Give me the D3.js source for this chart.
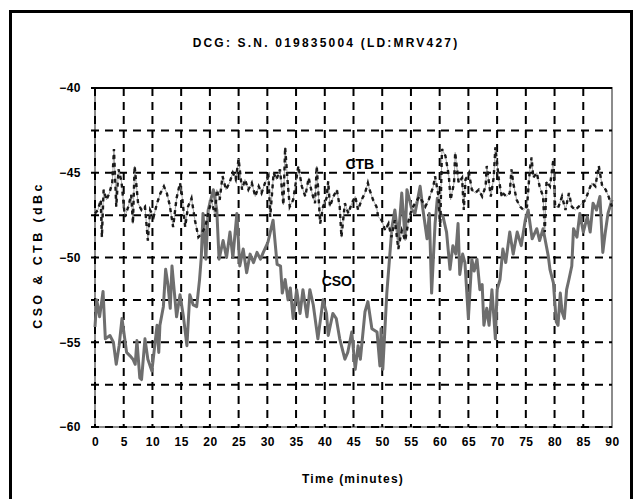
<!DOCTYPE html>
<html><head><meta charset="utf-8">
<script src="https://cdn.jsdelivr.net/npm/d3@7/dist/d3.min.js"></script>
<style>
body{margin:0;background:#fff;}
text{font-family:"Liberation Sans",Arial,sans-serif;font-weight:bold;fill:#000;}
</style>
</head><body>
<svg id="c" width="637" height="499"></svg>
<script>
// ---- data ----
const title = "DCG: S.N. 019835004 (LD:MRV427)";
const xTitle = "Time (minutes)";
const yTitle = "CSO & CTB (dBc";
const xTicks = [0,5,10,15,20,25,30,35,40,45,50,55,60,65,70,75,80,85,90];
const yTicks = [-40,-45,-50,-55,-60];
const yGrid = [-42.5,-45,-47.5,-50,-52.5,-55,-57.5,-60];

const csoT = [0.0,0.3,0.8,1.4,1.8,2.6,3.2,3.7,4.2,4.7,5.5,6.1,6.6,7.0,7.3,7.8,8.1,8.7,9.2,9.9,10.3,10.8,11.1,11.3,11.9,12.3,12.7,13.1,13.4,14.2,14.8,15.4,16.0,16.5,17.1,17.7,18.2,18.5,18.8,19.1,19.3,19.7,20.6,21.2,21.6,22.3,22.9,23.5,24.0,24.7,25.2,25.8,26.4,27.0,27.6,28.2,28.8,29.3,30.1,31.0,31.7,32.3,32.6,33.1,33.6,34.0,34.5,35.1,35.7,36.2,36.9,37.4,38.0,38.8,39.7,40.3,40.6,41.4,42.0,42.6,43.5,44.0,44.7,45.3,45.8,46.2,47.0,47.5,48.2,49.1,49.6,49.8,50.1,50.8,51.4,51.7,52.2,52.8,53.4,54.0,54.3,55.2,55.7,56.6,57.1,57.8,58.2,58.6,59.2,59.6,60.1,60.6,61.2,61.8,62.3,62.8,63.2,63.5,64.0,64.4,65.0,65.6,66.0,66.5,67.0,67.4,67.7,68.2,68.6,69.1,69.7,70.0,70.5,71.0,71.5,72.2,72.8,73.5,74.2,74.9,75.4,76.1,76.9,77.4,78.0,78.9,79.2,79.8,80.3,80.6,81.0,81.3,81.7,82.1,82.5,83.0,83.3,83.9,84.4,85.0,85.7,86.2,86.7,87.3,87.9,88.4,88.8,89.3,90.0];
const csoV = [-54.1,-52.5,-53.5,-52.0,-54.8,-54.6,-55.0,-56.3,-55.2,-53.6,-55.6,-55.8,-56.0,-56.3,-54.9,-57.1,-57.2,-54.8,-56.0,-56.7,-55.5,-54.0,-55.6,-54.0,-52.9,-50.7,-51.6,-53.0,-50.5,-53.5,-52.2,-53.5,-55.2,-52.2,-52.8,-52.9,-51.3,-50.0,-47.4,-49.0,-50.1,-47.2,-46.0,-47.2,-50.1,-49.0,-50.0,-48.5,-50.0,-47.4,-50.5,-49.5,-50.9,-49.8,-50.3,-49.7,-50.1,-49.7,-49.1,-47.8,-50.4,-50.5,-52.1,-51.3,-52.5,-51.8,-53.6,-51.9,-53.3,-51.9,-53.5,-51.9,-52.8,-54.8,-52.5,-53.3,-54.6,-53.3,-53.6,-54.8,-56.0,-55.6,-54.4,-56.6,-55.2,-56.0,-53.2,-52.6,-54.2,-54.4,-56.4,-54.2,-56.6,-52.1,-49.5,-48.2,-47.2,-48.9,-46.2,-48.9,-46.0,-47.2,-47.4,-45.8,-47.2,-48.9,-47.4,-52.1,-48.0,-46.5,-47.4,-47.6,-48.5,-50.7,-49.3,-49.8,-48.0,-51.0,-49.8,-50.3,-53.6,-50.1,-50.8,-50.1,-51.9,-51.6,-54.0,-53.0,-54.0,-51.9,-54.8,-51.9,-51.3,-49.5,-50.3,-48.5,-49.8,-48.5,-49.3,-47.8,-47.2,-48.9,-48.3,-49.0,-48.3,-49.9,-50.7,-51.5,-53.8,-54.0,-52.1,-53.2,-53.6,-51.9,-51.3,-50.5,-48.3,-48.8,-47.4,-48.5,-47.6,-48.5,-46.8,-47.2,-46.4,-49.7,-48.6,-47.4,-46.6];

const ctbT = [0.0,0.5,1.0,1.2,1.5,2.0,2.5,3.0,3.3,3.7,4.1,4.6,5.2,5.8,6.3,6.6,6.9,7.5,8.1,8.7,9.2,9.6,10.2,10.8,11.4,12.0,12.5,13.0,13.6,14.2,14.8,15.1,15.7,16.2,16.8,17.4,18.0,18.5,19.2,19.7,20.3,20.9,21.2,21.7,22.2,22.8,23.4,24.0,24.5,25.0,25.6,26.1,26.7,27.3,27.9,28.5,29.0,29.6,30.2,30.5,31.1,31.6,32.2,32.8,33.1,33.6,33.9,34.5,35.4,36.0,36.6,37.2,37.7,38.3,38.6,39.2,39.7,40.3,40.6,40.9,41.5,42.1,42.6,42.9,43.5,44.1,44.7,45.3,45.8,46.4,47.0,47.5,47.8,48.4,49.0,49.3,49.9,50.5,51.1,51.6,52.2,52.8,53.4,54.0,54.6,55.1,55.7,56.5,57.5,58.1,58.9,59.2,59.8,60.1,60.4,61.0,61.6,61.9,62.5,62.7,63.3,63.9,64.2,64.5,65.1,65.6,66.2,66.8,67.4,68.0,68.2,68.9,69.4,69.7,70.3,70.8,71.0,71.6,72.2,72.5,72.8,73.4,74.0,74.6,75.2,75.7,76.0,76.3,76.9,77.4,78.0,78.3,78.6,79.2,79.8,80.1,80.7,81.3,81.9,82.5,83.0,83.6,84.2,84.8,85.4,86.0,86.5,87.1,87.7,88.3,88.9,89.4,90.0];
const ctbV = [-47.4,-47.2,-46.6,-48.8,-46.0,-46.6,-46.2,-45.6,-43.6,-47.0,-44.8,-45.5,-47.6,-47.0,-46.3,-48.0,-44.6,-46.8,-47.2,-47.0,-49.0,-47.2,-47.6,-46.8,-46.2,-45.8,-46.2,-46.9,-48.2,-46.5,-45.6,-46.2,-48.2,-47.0,-46.5,-47.8,-48.8,-48.6,-48.2,-47.4,-46.6,-47.6,-46.0,-46.6,-45.2,-46.0,-45.6,-45.0,-45.4,-44.2,-46.0,-45.4,-46.0,-45.6,-46.4,-45.8,-46.2,-45.6,-45.2,-47.6,-45.0,-45.4,-44.8,-46.9,-43.5,-45.8,-47.0,-46.6,-44.6,-45.8,-46.4,-45.3,-46.1,-46.8,-44.6,-48.0,-47.0,-46.5,-45.5,-47.0,-46.4,-46.0,-47.0,-48.8,-46.8,-47.4,-46.8,-46.4,-47.2,-46.6,-46.2,-45.6,-46.0,-46.6,-47.0,-47.6,-47.8,-48.4,-48.0,-48.8,-47.8,-49.5,-48.4,-49.0,-47.8,-47.2,-46.8,-46.4,-47.0,-46.6,-45.8,-45.2,-46.4,-48.2,-43.6,-44.0,-45.2,-46.6,-45.6,-43.8,-45.6,-45.3,-47.2,-45.4,-45.0,-46.0,-46.2,-46.0,-46.4,-45.8,-44.6,-46.4,-45.3,-43.5,-45.4,-46.4,-46.2,-46.4,-46.2,-44.8,-45.6,-46.6,-47.0,-47.2,-47.0,-44.8,-44.1,-45.3,-45.0,-45.8,-46.4,-48.5,-45.5,-45.8,-44.2,-47.0,-47.0,-46.4,-47.2,-46.2,-47.0,-47.2,-47.0,-46.8,-46.6,-46.0,-45.6,-45.8,-44.6,-45.8,-46.0,-46.4,-47.0];

// ---- drawing ----
const svg = d3.select("#c");
const L = 95, R = 612, T = 88, B = 427;
const x = d3.scaleLinear().domain([0, 90]).range([L, R]);
const y = d3.scaleLinear().domain([-60, -40]).range([B, T]);

// outer frame
svg.append("rect").attr("x", 10.5).attr("y", 11.5).attr("width", 621).attr("height", 520)
  .attr("fill", "none").attr("stroke", "#000").attr("stroke-width", 3);

// plot frame (grey)
svg.append("rect").attr("x", L).attr("y", T).attr("width", R - L).attr("height", B - T)
  .attr("fill", "none").attr("stroke", "#8c8c8c").attr("stroke-width", 2);

// gridlines
const g = svg.append("g");
g.selectAll("line.v").data(xTicks.filter(d => d < 90)).join("line")
  .attr("x1", d => x(d)).attr("x2", d => x(d)).attr("y1", T).attr("y2", B)
  .attr("stroke", "#000").attr("stroke-width", 2).attr("stroke-dasharray", "8,6");
g.selectAll("line.h").data(yGrid).join("line")
  .attr("x1", L - 4).attr("x2", R).attr("y1", d => y(d)).attr("y2", d => y(d))
  .attr("stroke", "#000").attr("stroke-width", 2).attr("stroke-dasharray", "8,6");
// top border
svg.append("line").attr("x1", L - 4).attr("x2", R).attr("y1", T).attr("y2", T)
  .attr("stroke", "#000").attr("stroke-width", 2);

// axes labels via d3 axes (no domain lines)
const yAxis = svg.append("g").attr("transform", `translate(${L},0)`)
  .call(d3.axisLeft(y).tickValues(yTicks).tickSize(0).tickPadding(14).tickFormat(d3.format("d")));
yAxis.select(".domain").remove();
yAxis.selectAll("text").style("font-size", "12px").style("letter-spacing", "0.5px")
  .style("font-family", "'Liberation Sans',Arial,sans-serif").style("font-weight", "bold").attr("fill", "#000");

const xAxis = svg.append("g").attr("transform", `translate(0,${B})`)
  .call(d3.axisBottom(x).tickValues(xTicks).tickSize(0).tickPadding(10).tickFormat(d3.format("d")));
xAxis.select(".domain").remove();
xAxis.selectAll("text").style("font-size", "12px").style("letter-spacing", "0.5px")
  .style("font-family", "'Liberation Sans',Arial,sans-serif").style("font-weight", "bold").attr("fill", "#000");

// lines
const line = d3.line().x(d => x(d[0])).y(d => y(d[1]));
const cso = csoT.map((t, i) => [t, csoV[i]]);
const ctb = ctbT.map((t, i) => [t, ctbV[i]]);

svg.append("path").datum(cso).attr("d", line).attr("fill", "none")
  .attr("stroke", "#6e6e6e").attr("stroke-width", 3).attr("stroke-linejoin", "round");
svg.append("path").datum(ctb).attr("d", line).attr("fill", "none")
  .attr("stroke", "#9a9a9a").attr("stroke-width", 0.9);
svg.append("path").datum(ctb).attr("d", line).attr("fill", "none")
  .attr("stroke", "#1a1a1a").attr("stroke-width", 2.4).attr("stroke-dasharray", "4,4");

// series labels
svg.append("text").attr("x", x(46.1)).attr("y", y(-44.8)).attr("text-anchor", "middle")
  .style("font-size", "14px").text("CTB");
svg.append("text").attr("x", x(42.1)).attr("y", y(-51.7)).attr("text-anchor", "middle")
  .style("font-size", "14px").text("CSO");

// titles
svg.append("text").attr("x", 326).attr("y", 47).attr("text-anchor", "middle")
  .style("font-size", "12px").style("letter-spacing", "2.2px").text(title);
svg.append("text").attr("x", 353).attr("y", 483).attr("text-anchor", "middle")
  .style("font-size", "12px").style("letter-spacing", "1.2px").text(xTitle);
svg.append("text").attr("transform", "translate(42,255) rotate(-90)").attr("text-anchor", "middle")
  .style("font-size", "12.5px").style("letter-spacing", "3.4px").text(yTitle);
</script>
</body></html>
